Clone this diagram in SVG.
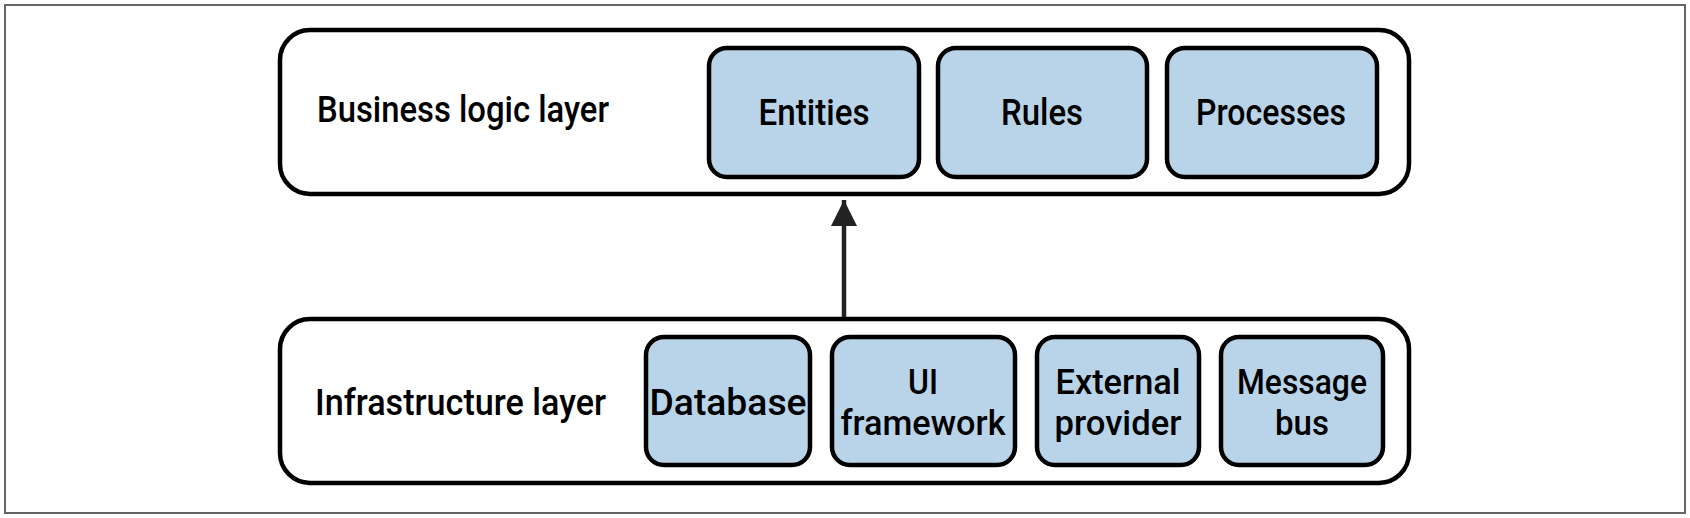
<svg xmlns="http://www.w3.org/2000/svg" width="1690" height="518" viewBox="0 0 1690 518">
<style>
.frame{fill:#fff;stroke:#666;stroke-width:2}
.layer{fill:#fff;stroke:#000;stroke-width:4.5}
.comp{fill:#b9d4e9;stroke:#000;stroke-width:4.5}
text{font-family:Roboto,"Liberation Sans",Arial,sans-serif;font-weight:500;font-size:37px;fill:#000}
.c{text-anchor:middle}
.two{font-size:35px}
.conn{stroke:#222;stroke-width:4.5;fill:none}
</style>
<defs>
<marker id="ah" markerUnits="userSpaceOnUse" markerWidth="30" markerHeight="26" refX="26" refY="13" orient="auto">
<path d="M0,0 L26,13 L0,26 Z" fill="#222"/>
</marker>
</defs>
<rect class="frame" x="5" y="5" width="1680" height="508"/>
<g id="business-layer">
<rect class="layer" x="280" y="30" width="1129" height="164" rx="30"/>
<text x="317" y="122" textLength="292" lengthAdjust="spacingAndGlyphs">Business logic layer</text>
</g>
<g id="entities">
<rect class="comp" x="709" y="48" width="210" height="129" rx="18"/>
<text class="c" x="814" y="125" textLength="111" lengthAdjust="spacingAndGlyphs">Entities</text>
</g>
<g id="rules">
<rect class="comp" x="938" y="48" width="209" height="129" rx="18"/>
<text class="c" x="1042" y="125" textLength="82" lengthAdjust="spacingAndGlyphs">Rules</text>
</g>
<g id="processes">
<rect class="comp" x="1167" y="48" width="210" height="129" rx="18"/>
<text class="c" x="1271" y="125" textLength="150" lengthAdjust="spacingAndGlyphs">Processes</text>
</g>
<g id="infrastructure-layer">
<rect class="layer" x="280" y="319" width="1129" height="164" rx="30"/>
<text x="315" y="415" textLength="291" lengthAdjust="spacingAndGlyphs">Infrastructure layer</text>
</g>
<g id="database">
<rect class="comp" x="646" y="337" width="164" height="128" rx="18"/>
<text class="c" x="728" y="415" textLength="157" lengthAdjust="spacingAndGlyphs">Database</text>
</g>
<g id="ui-framework">
<rect class="comp" x="832" y="337" width="183" height="128" rx="18"/>
<text class="c two" x="923" y="394" textLength="30" lengthAdjust="spacingAndGlyphs">UI</text>
<text class="c two" x="923" y="435" textLength="165" lengthAdjust="spacingAndGlyphs">framework</text>
</g>
<g id="external-provider">
<rect class="comp" x="1037" y="337" width="162" height="128" rx="18"/>
<text class="c two" x="1118" y="394" textLength="125" lengthAdjust="spacingAndGlyphs">External</text>
<text class="c two" x="1118" y="435" textLength="127" lengthAdjust="spacingAndGlyphs">provider</text>
</g>
<g id="message-bus">
<rect class="comp" x="1221" y="337" width="162" height="128" rx="18"/>
<text class="c two" x="1302" y="394" textLength="130" lengthAdjust="spacingAndGlyphs">Message</text>
<text class="c two" x="1302" y="435" textLength="54" lengthAdjust="spacingAndGlyphs">bus</text>
</g>
<g id="connectors">
<line class="conn" x1="844" y1="317" x2="844" y2="200" marker-end="url(#ah)"/>
</g>
</svg>
